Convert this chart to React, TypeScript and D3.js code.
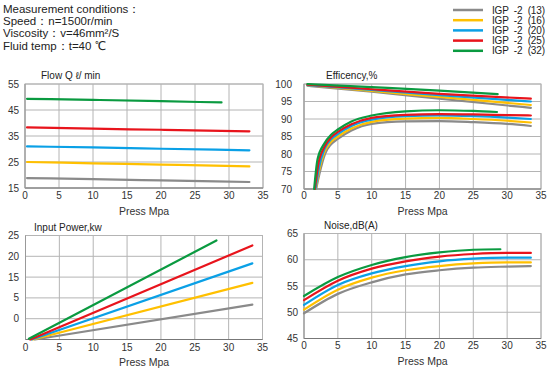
import React from "react";
import * as d3 from "d3";

const seriesNames = ["IGP  -2  (13)", "IGP  -2  (16)", "IGP  -2  (20)", "IGP  -2  (25)", "IGP  -2  (32)"];
const seriesColors = ["#8a8a8a", "#ffc000", "#0aa0e6", "#e8141c", "#0a9a40"];

const conditionLines = [
  "Measurement conditions：",
  "Speed：n=1500r/min",
  "Viscosity：v=46mm²/S",
  "Fluid temp：t=40 ℃",
];

const xTicks = [0, 5, 10, 15, 20, 25, 30, 35];

// Flow Q (l/min)
const flowX = [
  [0.3, 10, 20, 33],
  [0.3, 10, 20, 33],
  [0.3, 10, 20, 33],
  [0.3, 10, 20, 33],
  [0.3, 10, 20, 28.9],
];
const flowY = [
  [18.8, 18.4, 17.9, 17.3],
  [25.0, 24.5, 24.0, 23.3],
  [31.0, 30.6, 30.1, 29.5],
  [38.3, 37.8, 37.4, 36.8],
  [49.3, 48.9, 48.4, 47.9],
];
const flowTicks = [15, 25, 35, 45, 55];

// Efficiency (%) upper curves
const effUpX = [
  [0.5, 10, 20, 33.5],
  [0.5, 10, 20, 33.5],
  [0.5, 10, 20, 33.5],
  [0.5, 10, 20, 33.5],
  [0.5, 10, 20, 28.6],
];
const effUpY = [
  [99.5, 97.8, 95.8, 93.2],
  [99.7, 98.0, 96.3, 94.0],
  [99.7, 98.3, 96.8, 95.0],
  [99.8, 98.5, 97.2, 95.8],
  [100.0, 99.1, 98.1, 97.1],
];
// Efficiency lower curves
const effLowX = [
  [1.8, 2.3, 3.1, 4, 5, 7, 10, 15, 20, 25, 30, 33.5],
  [1.75, 2.2, 3, 4, 5, 7, 10, 15, 20, 25, 30, 33.5],
  [1.7, 2.2, 3, 4, 5, 7, 10, 15, 20, 25, 30, 33.5],
  [1.6, 2.1, 3, 4, 5, 7, 10, 15, 20, 25, 30, 33.5],
  [1.5, 2, 3, 4, 5, 7, 10, 15, 20, 25, 28.5],
];
const effLowY = [
  [70, 74.5, 80, 82.8, 84.3, 86.7, 88.6, 89.3, 89.4, 89.1, 88.6, 88.0],
  [70, 75, 80.5, 83.5, 85, 87.3, 89.2, 90.1, 90.3, 90.0, 89.5, 89.0],
  [70, 76, 81.3, 84.2, 85.7, 88, 89.8, 90.8, 91.0, 90.8, 90.4, 90.0],
  [70, 77, 82, 84.8, 86.3, 88.5, 90.3, 91.2, 91.4, 91.3, 91.1, 91.0],
  [70, 78.5, 83, 85.5, 87, 89.3, 91, 92.2, 92.5, 92.3, 92.0],
];
const effTicks = [70, 75, 80, 85, 90, 95, 100];

// Input power (kW)
const powX = [
  [1.4, 33.5],
  [1.1, 33.5],
  [0.9, 33.5],
  [0.7, 33.5],
  [0.5, 28.2],
];
const powY = [
  [0, 8.4],
  [0, 13.6],
  [0, 18.3],
  [0, 22.6],
  [0.2, 23.8],
];
const powTicks = [0, 5, 10, 15, 20, 25];
const powTickLabels = ["", "0", "5", "15", "20", "25"];

// Noise dB(A)
const noiseX = [
  [0, 5, 10, 15, 20, 25, 30, 33.5],
  [0, 5, 10, 15, 20, 25, 30, 33.5],
  [0, 5, 10, 15, 20, 25, 30, 33.5],
  [0, 5, 10, 15, 20, 25, 30, 33.5],
  [0, 5, 10, 15, 20, 25, 29],
];
const noiseY = [
  [49.8, 53.5, 55.7, 57.2, 58.0, 58.5, 58.7, 58.8],
  [50.5, 54.3, 56.6, 58.0, 58.8, 59.3, 59.5, 59.5],
  [51.4, 55.2, 57.4, 58.8, 59.7, 60.2, 60.4, 60.4],
  [52.3, 56.0, 58.3, 59.7, 60.6, 61.1, 61.3, 61.3],
  [53.1, 56.7, 59.0, 60.5, 61.4, 61.9, 62.0],
];
const noiseTicks = [45, 50, 55, 60, 65];

const FONT = "'Liberation Sans', Arial, sans-serif";

type Line = { xs: number[]; ys: number[]; color: string };

function Panel(props: {
  left: number; right: number; top: number; bottom: number;
  yDomain: [number, number]; yTicks: number[]; yLabels?: string[];
  yLabelRight: number; title: string; titleX: number; titleY: number;
  lines: Line[]; xLabelY: number; axisTitleY: number;
}) {
  const x = d3.scaleLinear().domain([0, 35]).range([props.left, props.right]);
  const y = d3.scaleLinear().domain(props.yDomain).range([props.bottom, props.top]);
  const gen = d3
    .line<[number, number]>()
    .x((d) => x(d[0]))
    .y((d) => y(d[1]))
    .curve(d3.curveMonotoneX);
  return (
    <g>
      {xTicks.map((t) => (
        <line key={"vx" + t} x1={x(t)} x2={x(t)} y1={props.top} y2={props.bottom} stroke="#b4b4b4" strokeWidth={1} />
      ))}
      {props.yTicks.map((t) => (
        <line key={"hy" + t} x1={props.left} x2={props.right} y1={y(t)} y2={y(t)} stroke="#b4b4b4" strokeWidth={1} />
      ))}
      <rect x={props.left} y={props.top} width={props.right - props.left} height={props.bottom - props.top} fill="none" stroke="#b4b4b4" />
      <line x1={props.left} x2={props.right} y1={props.bottom} y2={props.bottom} stroke="#777" />
      <line x1={props.left} x2={props.left} y1={props.top} y2={props.bottom} stroke="#999" />
      {props.lines.map((l, i) => (
        <path key={i} d={gen(l.xs.map((v, j) => [v, l.ys[j]] as [number, number])) || ""} fill="none" stroke={l.color} strokeWidth={2.2} strokeLinecap="round" />
      ))}
      {xTicks.map((t) => (
        <text key={"xl" + t} x={x(t)} y={props.xLabelY} textAnchor="middle" fontSize={10} fill="#333" fontFamily={FONT}>{t}</text>
      ))}
      {props.yTicks.map((t, i) => (
        <text key={"yl" + t} x={props.yLabelRight} y={y(t) + 3.5} textAnchor="end" fontSize={10} fill="#333" fontFamily={FONT}>
          {props.yLabels ? props.yLabels[i] : t}
        </text>
      ))}
      <text x={props.titleX} y={props.titleY} fontSize={10} fill="#222" fontFamily={FONT}>{props.title}</text>
      <text x={(props.left + props.right) / 2} y={props.axisTitleY} textAnchor="middle" fontSize={10.5} fill="#333" fontFamily={FONT}>Press Mpa</text>
    </g>
  );
}

function mk(xs: number[][], ys: number[][]): Line[] {
  return xs.map((xv, i) => ({ xs: xv, ys: ys[i], color: seriesColors[i] }));
}

export default function App() {
  return (
    <svg width={550} height={369} style={{ position: "absolute", left: 0, top: 0, background: "#fff" }}>
      <rect width={550} height={369} fill="#fff" />
      {conditionLines.map((s, i) => (
        <text key={i} x={3} y={13 + i * 12.2} fontSize={11.5} fill="#222" fontFamily={FONT}>{s}</text>
      ))}
      {seriesNames.map((n, i) => (
        <g key={n}>
          <line x1={453} x2={483} y1={10 + i * 10.2} y2={10 + i * 10.2} stroke={seriesColors[i]} strokeWidth={2.5} />
          <text x={492} y={13.5 + i * 10.2} fontSize={10} fill="#222" fontFamily={FONT}
            textLength={53} lengthAdjust="spacing" style={{ whiteSpace: "pre" }}>{n}</text>
        </g>
      ))}
      <Panel left={25} right={263} top={84} bottom={188} yDomain={[15, 55]} yTicks={flowTicks}
        yLabelRight={19} title="Flow Q ℓ/ min" titleX={41} titleY={79}
        lines={mk(flowX, flowY)} xLabelY={199} axisTitleY={215} />
      <Panel left={304} right={541} top={84} bottom={189} yDomain={[70, 100]} yTicks={effTicks}
        yLabelRight={292} title="Efficency,%" titleX={326} titleY={79}
        lines={[...mk(effLowX, effLowY), ...mk(effUpX, effUpY)]} xLabelY={199} axisTitleY={215} />
      <Panel left={25.5} right={262.5} top={235.5} bottom={339.5} yDomain={[0, 25]} yTicks={powTicks} yLabels={powTickLabels}
        yLabelRight={19} title="Input Power,kw" titleX={34} titleY={231}
        lines={mk(powX, powY)} xLabelY={351} axisTitleY={366} />
      <Panel left={304} right={541} top={233.5} bottom={338.5} yDomain={[45, 65]} yTicks={noiseTicks}
        yLabelRight={298} title="Noise,dB(A)" titleX={324} titleY={229}
        lines={mk(noiseX, noiseY)} xLabelY={349} axisTitleY={365} />
    </svg>
  );
}
